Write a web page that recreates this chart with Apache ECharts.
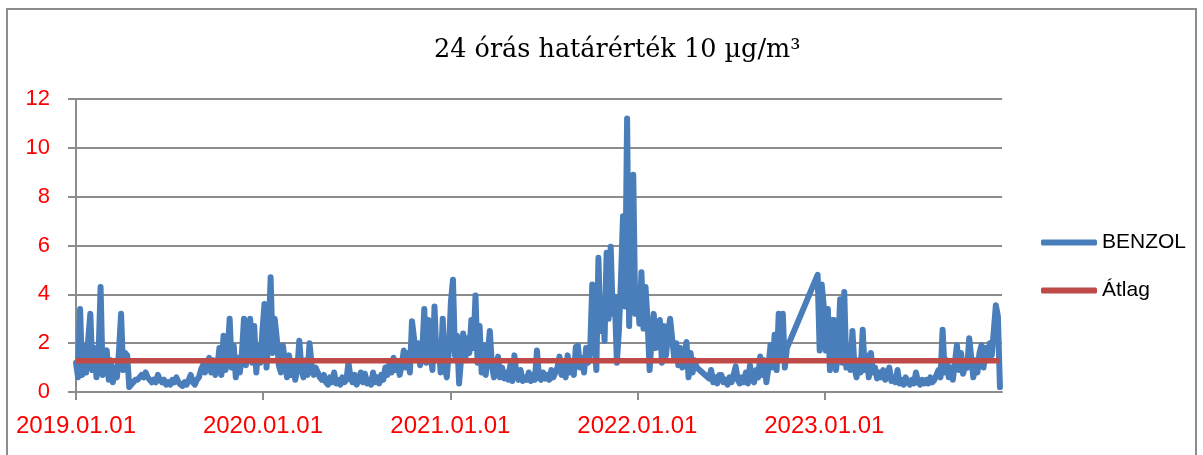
<!DOCTYPE html>
<html>
<head>
<meta charset="utf-8">
<script src="https://cdn.jsdelivr.net/npm/echarts@6/dist/echarts.min.js"></script>
<style>
  html, body { margin: 0; padding: 0; background: #fff; }
  #chart { width: 1203px; height: 455px; }
</style>
</head>
<body>
<div id="chart"></div>
<script>
// Benzene daily concentration (µg/m³), one reading every 4 days from 2019-01-01.
// null = no measurement (the line is drawn straight across those gaps).
const startDate = [2019, 0, 1];
const stepDays = 4;
const benzol = [
  1.2, 0.6, 3.4, 0.7, 1.9,  0.8, 2.2, 3.2, 0.9, 1.8,  0.6, 1.5, 4.3, 0.7, 1.6,
  1.7, 0.5, 1.3, 0.4, 1.0,  0.6, 1.7, 3.2, 0.9, 1.6,  1.5, 0.2, 0.3, 0.4, 0.5,
  0.5, 0.6, 0.7, 0.6, 0.8,  0.6, 0.5, 0.4, 0.5, 0.4,  0.7, 0.5, 0.4, 0.5, 0.3,
  0.4, 0.3, 0.5, 0.4, 0.6,  0.4, 0.3, 0.25, 0.4, 0.3, 0.5, 0.7, 0.4, 0.3, 0.5,
  0.6, 0.9, 1.1, 0.8, 1.2,  1.4, 0.8, 1.3, 0.7, 1.0,  1.8, 0.7, 2.3, 0.9, 1.5,
  3.0, 1.0, 1.9, 0.6, 1.4,  0.8, 1.6, 3.0, 1.1, 2.2,  3.0, 1.2, 2.7, 0.8, 1.9,
  1.2, 2.5, 3.6, 1.0, 2.2,  4.7, 1.6, 3.0, 2.2, 1.1,  0.8, 1.9, 1.2, 0.6, 1.5,
  0.7, 1.2, 0.5, 0.9, 2.1,  1.0, 0.6, 1.3, 0.7, 2.0,  1.1, 0.7, 1.0, 0.8, 0.6,
  0.5, 0.7, 0.4, 0.3, 0.6,  0.4, 0.8, 0.35, 0.5, 0.3, 0.6, 0.4, 0.5, 1.2, 0.6,
  0.4, 0.7, 0.3, 0.5, 0.8,  0.4, 0.75, 0.35, 0.5, 0.3, 0.8, 0.4, 0.6, 0.35, 0.7,
  0.5, 1.0, 0.7, 1.2, 0.8,  1.4, 0.9, 1.2, 0.7, 1.1,  1.7, 1.0, 1.6, 0.8, 2.9,
  2.2, 1.3, 2.0, 1.1, 1.6,  3.4, 1.2, 2.95, 1.5, 0.9, 3.5, 1.4, 1.9, 0.8, 3.0,
  1.0, 0.6, 1.7, 3.7, 4.6,  1.5, 2.3, 0.35, 1.4, 2.4, 1.3, 2.2, 1.6, 2.95, 1.8,
  3.95, 1.2, 2.7, 0.8, 1.9, 0.7, 1.6, 2.5, 1.1, 0.6,  0.9, 1.45, 0.6, 1.0, 0.55,
  0.8, 0.5, 1.1, 0.45, 1.5, 0.7, 0.5, 0.9, 0.45, 0.6, 0.5, 0.8, 0.45, 0.7, 0.5,
  1.7, 0.6, 0.5, 0.8, 0.55, 0.7, 0.5, 0.9, 0.6, 0.8,  1.0, 1.45, 0.7, 1.1, 0.6,
  1.5, 0.8, 1.2, 0.7, 1.85, 1.9, 1.0, 1.4, 0.8, 1.8,  1.2, 1.8, 4.4, 2.0, 0.9,
  5.5, 2.5, 3.8, 2.1, 5.7,  3.0, 5.95, 3.2, 3.9, 1.2, 2.5, 4.6, 7.2, 3.5, 11.2,
  2.7, 6.5, 8.9, 3.2, 4.2,  2.8, 4.9, 2.6, 4.3, 2.9,  0.9, 2.2, 3.2, 1.8, 2.6,
  2.95, 1.2, 2.7, 1.5, 2.4, 3.0, 2.2, 1.4, 2.0, 1.1,  1.8, 1.0, 1.5, 2.05, 0.6,
  1.6, 0.8, 1.3, 1.0, null, null, null, null, null, 0.55,
  0.9, 0.4, 0.6, 0.35, 0.7, 0.7, 0.4, 0.5, 0.3, 0.6,  0.4, 0.7, 1.05, 0.5, 0.35,
  0.6, 0.4, 0.8, 0.35, 1.1, 0.5, 0.4, 0.9, 0.6, 1.45, 0.7, 1.3, 0.4, 1.0, 1.92,
  1.0, 2.34, 0.9, 3.2, 1.5, 3.2, 1.0, 1.8, null, null,
  null, null, null, null, null, null, null, null, null, null,
  null, null, 4.8, 1.7, 4.4, 3.5, 1.7, 3.4, 0.9, 2.95, 2.95, 0.9, 1.8, 3.8, 1.2,
  4.1, 1.0, 1.7, 0.9, 2.5,  1.0, 0.6, 1.3, 0.8, 2.55, 0.9, 1.5, 0.6, 1.6, 0.8,
  1.0, 0.55, 0.8, 0.6, 0.9, 0.5, 0.7, 1.0, 0.45, 0.6, 0.4, 0.9, 0.35, 0.5, 0.3,
  0.6, 0.4, 0.3, 0.5, 0.35, 0.8, 0.4, 0.3, 0.5, 0.35, 0.5, 0.35, 0.6, 0.4, 0.5,
  0.7, 0.9, 0.6, 2.55, 0.8, 1.3, 0.6, 1.0, 0.5, 1.2,  1.92, 0.9, 1.6, 0.75, 1.1,
  1.0, 2.2, 1.4, 0.6, 1.3,  0.8, 1.6, 1.92, 1.0, 1.8, 1.3, 2.0, 1.5, 2.5, 3.55,
  3.1, 0.2
];
// Period average
const atlag = [1.28];
// Year-start tick labels
const tickYears = [2019, 2020, 2021, 2022, 2023];
const axisEnd = [2023, 11, 14];

const dayMs = (y, m, d) => new Date(y, m, d).getTime();
const benzolData = benzol.map((v, i) => [dayMs(startDate[0], startDate[1], startDate[2] + i * stepDays), v]);
const firstT = benzolData[0][0];
const lastT = benzolData[benzolData.length - 1][0];
const atlagData = [[firstT, atlag[0]], [lastT, atlag[0]]];
const tickValues = tickYears.map(y => dayMs(y, 0, 1));
const pad = n => (n < 10 ? '0' : '') + n;

const grey = '#8c8c8c';
const chart = echarts.init(document.getElementById('chart'), null, { renderer: 'canvas' });
chart.setOption({
  animation: false,
  backgroundColor: '#fff',
  title: {
    text: '24 órás határérték 10 µg/m³',
    left: 429, top: 32,
    textStyle: { fontFamily: 'DejaVu Serif', fontSize: 25.5, fontWeight: 'normal', color: '#000' }
  },
  graphic: [{
    type: 'rect', silent: true,
    shape: { x: 7, y: 9, width: 1189, height: 470 },
    style: { fill: 'none', stroke: grey, lineWidth: 2 }
  }],
  legend: {
    orient: 'vertical', left: 1036, top: 227,
    itemWidth: 56, itemHeight: 6, itemGap: 27,
    icon: 'roundRect',
    textStyle: { fontFamily: 'Liberation Sans', fontSize: 21, color: '#000' },
    data: ['BENZOL', 'Átlag']
  },
  grid: { left: 76, top: 99, width: 926, height: 293, containLabel: false },
  xAxis: {
    // dates are plotted as timestamps on a linear axis so the year-start ticks can be placed exactly
    type: 'value',
    min: firstT, max: dayMs(axisEnd[0], axisEnd[1], axisEnd[2]),
    axisLine: { lineStyle: { color: grey, width: 2 } },
    axisTick: { show: true, length: 8, lineStyle: { color: grey, width: 2 }, customValues: tickValues },
    axisLabel: {
      customValues: tickValues,
      color: '#ff0000', fontFamily: 'Liberation Sans', fontSize: 24, margin: 22,
      formatter: v => { const d = new Date(v); return d.getFullYear() + '.' + pad(d.getMonth() + 1) + '.' + pad(d.getDate()); }
    },
    splitLine: { show: false }
  },
  yAxis: {
    type: 'value', min: 0, max: 12, interval: 2,
    axisLine: { show: true, lineStyle: { color: grey, width: 2 } },
    axisTick: { show: true, length: 8, lineStyle: { color: grey, width: 2 } },
    axisLabel: { color: '#ff0000', fontFamily: 'Liberation Sans', fontSize: 22, margin: 26 },
    splitLine: { show: true, lineStyle: { color: grey, width: 2 } }
  },
  series: [
    {
      name: 'BENZOL', type: 'line', data: benzolData, showSymbol: false, symbol: 'none',
      connectNulls: true,
      lineStyle: { color: '#4a7ebb', width: 6, join: 'round', cap: 'round' },
      itemStyle: { color: '#4a7ebb' }
    },
    {
      name: 'Átlag', type: 'line', data: atlagData, showSymbol: false, symbol: 'none',
      lineStyle: { color: '#be4b48', width: 5.5 },
      itemStyle: { color: '#be4b48' }
    }
  ]
});
</script>
</body>
</html>
